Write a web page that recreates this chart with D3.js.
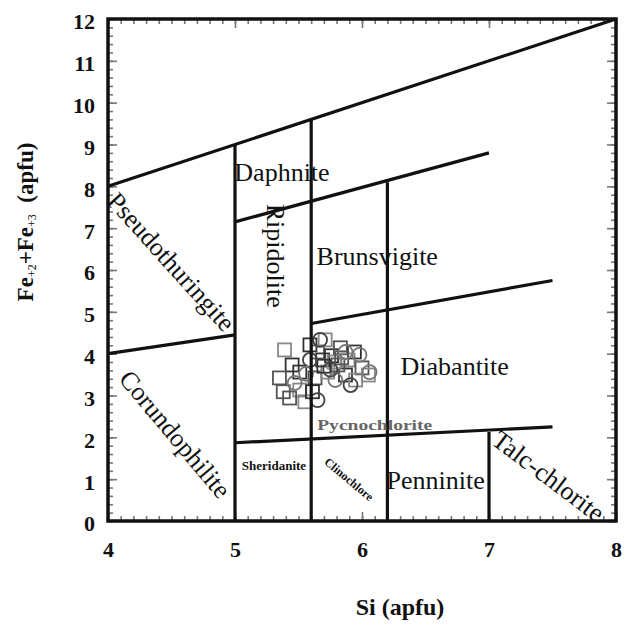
<!DOCTYPE html>
<html>
<head>
<meta charset="utf-8">
<script src="https://cdn.jsdelivr.net/npm/d3@7"></script>
<style>
  body { margin: 0; background: #fff; }
  svg { display: block; }
  text { font-family: "Liberation Serif", "Times New Roman", serif; }
</style>
</head>
<body>
<svg id="chart" width="627" height="625"></svg>
<script>
// field boundaries (Si, Fe) from the Hey (1954) style chlorite diagram
var boundaries = [
  [[4, 8], [8, 12]],
  [[4, 4], [5, 4.45]],
  [[5, 0], [5, 9]],
  [[5.6, 0], [5.6, 9.6]],
  [[6.2, 0], [6.2, 8.1]],
  [[5, 7.15], [7, 8.8]],
  [[5.6, 4.72], [7.5, 5.75]],
  [[5, 1.87], [7.5, 2.25]],
  [[7, 0], [7, 2.13]]
];

// analyses, squares and circles
var sqSi = [5.39, 5.45, 5.35, 5.51, 5.59, 5.65, 5.71, 5.76, 5.83, 5.89, 5.94, 6.00, 6.05, 5.51, 5.63, 5.73, 5.87, 5.43, 5.55, 5.69, 5.81, 5.95, 5.61, 5.38, 5.78, 5.70, 5.84];
var sqFe = [4.09, 3.73, 3.42, 3.13, 4.21, 4.04, 4.33, 3.95, 4.14, 3.85, 4.04, 3.66, 3.49, 3.56, 3.42, 3.56, 3.49, 2.94, 2.85, 3.85, 3.73, 3.37, 3.09, 3.09, 3.80, 3.70, 3.90];
var ciSi = [5.47, 5.67, 5.79, 5.91, 6.06, 5.59, 5.98, 5.65, 5.87, 5.75, 5.56];
var ciFe = [3.30, 4.33, 3.37, 3.25, 3.56, 3.85, 3.97, 2.89, 4.04, 3.62, 3.52];

var bigNames = ["Pseudothuringite", "Corundophilite", "Talc-chlorite", "Ripidolite", "Daphnite", "Brunsvigite", "Diabantite", "Penninite"];
var bigSi = [4.50, 4.53, 7.47, 5.32, 5.37, 6.12, 6.73, 6.58];
var bigFe = [6.20, 2.08, 1.08, 6.34, 8.35, 6.34, 3.71, 0.98];
var bigAngle = [48, 50, 37, 90, 0, 0, 0, 0];

var xTicks = [4, 5, 6, 7, 8];
var yTicks = [0, 1, 2, 3, 4, 5, 6, 7, 8, 9, 10, 11, 12];

var svg = d3.select("#chart");
var x = d3.scaleLinear().domain([4, 8]).range([108, 616]);
var y = d3.scaleLinear().domain([0, 12]).range([521, 19]);

// minor + major inward ticks on all four sides
function ticks(axisFn, pos, vals, size, transform) {
  svg.append("g").attr("transform", transform)
    .call(axisFn(pos).tickValues(vals).tickSize(size).tickFormat(""))
    .call(function(g){ g.select(".domain").remove(); g.selectAll("line").attr("stroke", "#777").attr("stroke-width", 1.6); });
}
var xMinor = d3.range(40, 81).map(function(d){ return d / 10; });
var yMinor = d3.range(0, 61).map(function(d){ return d / 5; });
ticks(d3.axisBottom, x, xMinor, -5, "translate(0," + y(0) + ")");
ticks(d3.axisTop, x, xMinor, -5, "translate(0," + y(12) + ")");
ticks(d3.axisLeft, y, yMinor, -5, "translate(" + x(4) + ",0)");
ticks(d3.axisRight, y, yMinor, -5, "translate(" + x(8) + ",0)");
ticks(d3.axisBottom, x, xTicks, -9, "translate(0," + y(0) + ")");
ticks(d3.axisTop, x, xTicks, -9, "translate(0," + y(12) + ")");
ticks(d3.axisLeft, y, yTicks, -9, "translate(" + x(4) + ",0)");
ticks(d3.axisRight, y, yTicks, -9, "translate(" + x(8) + ",0)");

// tick labels
var xa = svg.append("g").attr("transform", "translate(0," + y(0) + ")")
  .call(d3.axisBottom(x).tickValues(xTicks).tickSize(0).tickPadding(20).tickFormat(d3.format("d")));
xa.select(".domain").remove();
xa.selectAll("text").attr("font-family", "Liberation Serif").attr("font-size", 22).attr("font-weight", "bold").attr("fill", "#111");
var ya = svg.append("g").attr("transform", "translate(" + x(4) + ",0)")
  .call(d3.axisLeft(y).tickValues(yTicks).tickSize(0).tickPadding(13).tickFormat(d3.format("d")));
ya.select(".domain").remove();
ya.selectAll("text").attr("font-family", "Liberation Serif").attr("font-size", 22).attr("font-weight", "bold").attr("fill", "#111").attr("dy", "0.45em");

// scatter points
svg.append("g").selectAll("rect").data(sqSi).enter().append("rect")
  .attr("x", function(d){ return x(d) - 6.5; })
  .attr("y", function(d, i){ return y(sqFe[i]) - 6.5; })
  .attr("width", 13).attr("height", 13)
  .attr("fill", "none")
  .attr("stroke", function(d, i){ return i % 3 == 0 ? "#888" : (i % 3 == 1 ? "#333" : "#555"); })
  .attr("stroke-width", 1.8);
svg.append("g").selectAll("circle").data(ciSi).enter().append("circle")
  .attr("cx", function(d){ return x(d); })
  .attr("cy", function(d, i){ return y(ciFe[i]); })
  .attr("r", 7)
  .attr("fill", "none")
  .attr("stroke", function(d, i){ return i % 2 ? "#444" : "#777"; })
  .attr("stroke-width", 1.8);

// field boundary lines
var line = d3.line().x(function(d){ return x(d[0]); }).y(function(d){ return y(d[1]); });
svg.append("g").selectAll("path").data(boundaries).enter().append("path")
  .attr("d", line).attr("stroke", "#111").attr("stroke-width", 3.2).attr("fill", "none");

// frame
svg.append("rect").attr("x", x(4)).attr("y", y(12)).attr("width", x(8) - x(4)).attr("height", y(0) - y(12))
  .attr("fill", "none").attr("stroke", "#111").attr("stroke-width", 3.5);

// field names
svg.append("g").selectAll("text").data(bigNames).enter().append("text")
  .attr("transform", function(d, i){ return "translate(" + x(bigSi[i]) + "," + y(bigFe[i]) + ") rotate(" + bigAngle[i] + ")"; })
  .attr("text-anchor", "middle").attr("dy", "0.35em")
  .attr("font-size", 26).attr("fill", "#111")
  .text(function(d){ return d; });

svg.append("text").attr("x", x(5.307)).attr("y", y(1.32)).attr("dy", "0.35em").attr("text-anchor", "middle")
  .attr("font-size", 13).attr("font-weight", "bold").attr("fill", "#111").text("Sheridanite");
svg.append("text").attr("transform", "translate(" + x(5.898) + "," + y(1.0) + ") rotate(40)")
  .attr("dy", "0.35em").attr("text-anchor", "middle")
  .attr("font-size", 12).attr("font-weight", "bold").attr("fill", "#111").text("Clinochlore");
svg.append("text").attr("x", x(6.1)).attr("y", y(2.3)).attr("dy", "0.35em").attr("text-anchor", "middle")
  .attr("font-size", 15).attr("font-weight", "bold").attr("fill", "#666")
  .attr("textLength", 115).attr("lengthAdjust", "spacingAndGlyphs").text("Pycnochlorite");

// axis titles
svg.append("text").attr("x", 400).attr("y", 615).attr("text-anchor", "middle")
  .attr("font-size", 24).attr("font-weight", "bold").attr("fill", "#111").text("Si (apfu)");
var yt = svg.append("text").attr("transform", "translate(33,222) rotate(-90)").attr("text-anchor", "middle")
  .attr("font-size", 23).attr("font-weight", "bold").attr("fill", "#111");
yt.append("tspan").text("Fe");
yt.append("tspan").attr("font-size", 12).attr("font-weight", "normal").attr("dy", 3).text("+2");
yt.append("tspan").attr("dy", -3).text("+Fe");
yt.append("tspan").attr("font-size", 12).attr("font-weight", "normal").attr("dy", 3).text("+3");
yt.append("tspan").attr("dy", -3).text("\u00a0\u00a0(apfu)");
</script>
</body>
</html>
